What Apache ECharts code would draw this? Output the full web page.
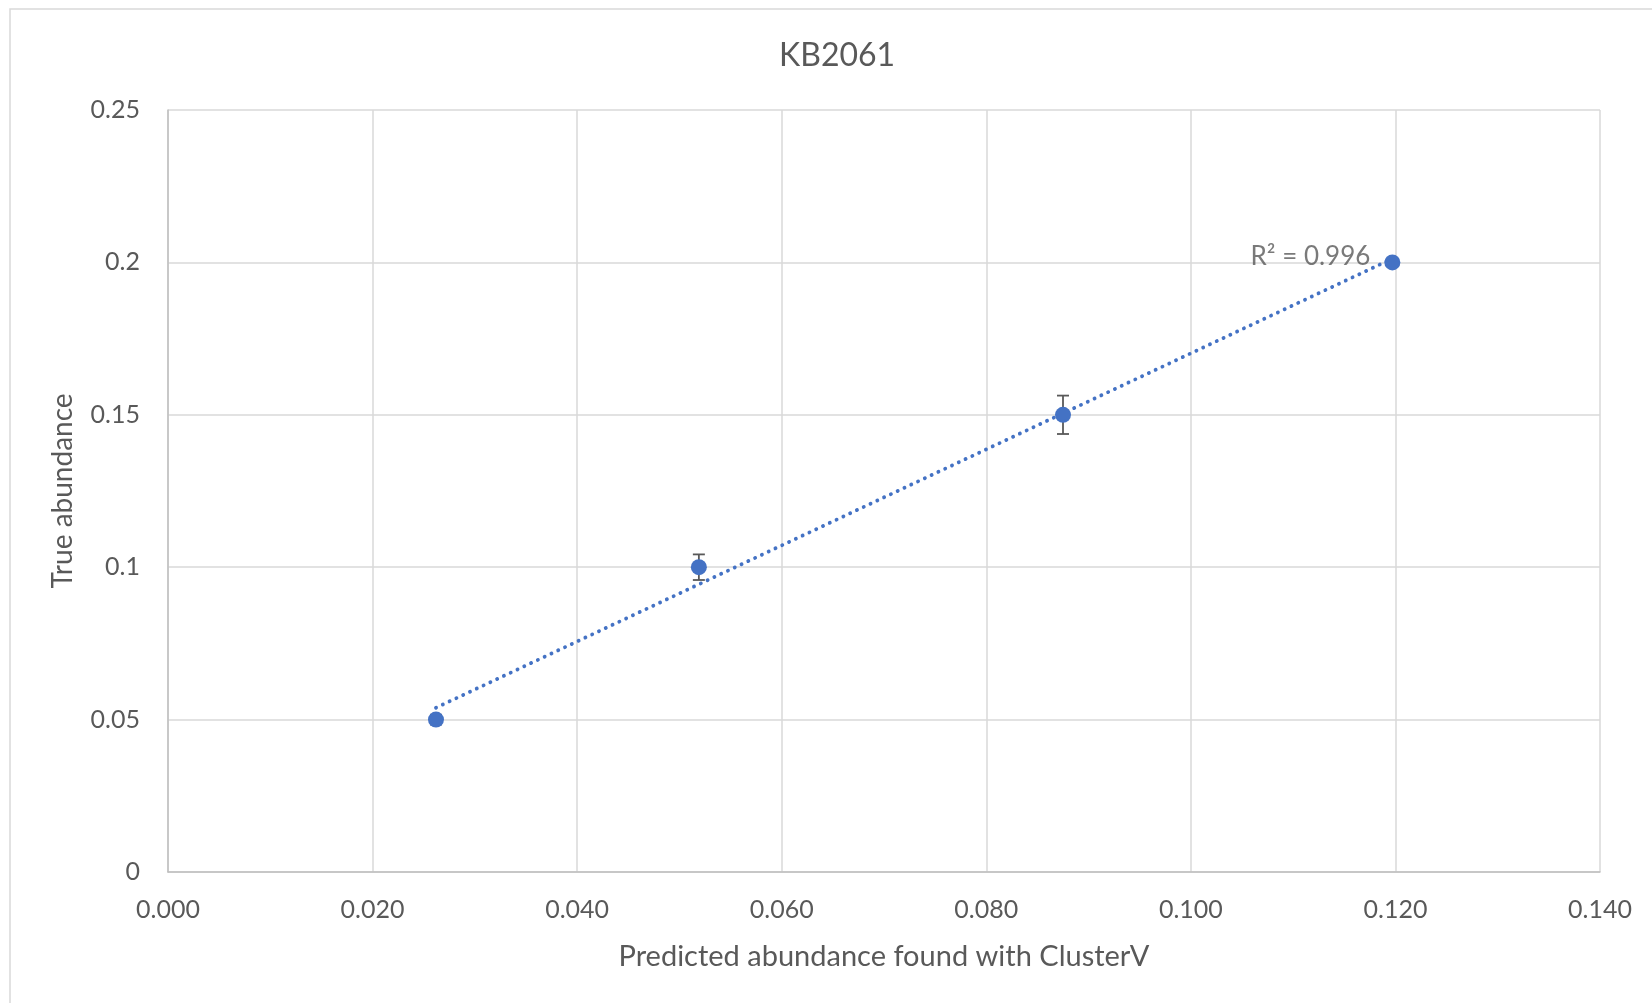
<!DOCTYPE html>
<html><head><meta charset="utf-8">
<script src="https://cdn.jsdelivr.net/npm/echarts@6/dist/echarts.min.js"></script>
<style>html,body{margin:0;padding:0;background:#fff}#c{width:1652px;height:1003px}</style>
</head><body><div id="c"></div>
<script>
const titleText = 'KB2061';
const xAxisName = 'Predicted abundance found with ClusterV';
const yAxisName = 'True abundance';
const predicted = [0.0262, 0.0519, 0.0875, 0.1197];
const trueAbund = [0.05, 0.10, 0.15, 0.20];
const errY = [0.0016, 0.0042, 0.0063, 0];

// linear regression of trueAbund on predicted (trendline)
const n = predicted.length;
const mx = predicted.reduce((a,b)=>a+b,0)/n;
const my = trueAbund.reduce((a,b)=>a+b,0)/n;
let sxy=0,sxx=0,syy=0;
for(let i=0;i<n;i++){const dx=predicted[i]-mx,dy=trueAbund[i]-my;sxy+=dx*dy;sxx+=dx*dx;syy+=dy*dy;}
const slope=sxy/sxx, icpt=my-slope*mx, r2=sxy*sxy/(sxx*syy);
const xmin=Math.min(...predicted), xmax=Math.max(...predicted);
const trend=[[xmin,icpt+slope*xmin],[xmax,icpt+slope*xmax]];

const pts = predicted.map((x,i)=>[x,trueAbund[i]]);
const errData = predicted.map((x,i)=>[x,trueAbund[i]-errY[i],trueAbund[i]+errY[i]]);
const font = 'Lato, "Open Sans", sans-serif';
const grey = '#595959';

const chart = echarts.init(document.getElementById('c'));
chart.setOption({
  animation:false,
  textStyle:{fontFamily:font},
  graphic:[{type:'rect',shape:{x:10,y:9,width:1700,height:1100},style:{fill:'none',stroke:'#d9d9d9',lineWidth:1.5},z:-10}],
  title:{text:titleText,left:774,top:35,textStyle:{fontFamily:font,fontSize:32,fontWeight:'normal',color:grey}},
  grid:{left:168,top:110,right:52,bottom:131},
  xAxis:{type:'value',min:0,max:0.14,interval:0.02,
    name:xAxisName,nameLocation:'middle',nameGap:70,
    nameTextStyle:{fontSize:29,color:grey,fontFamily:font},
    axisLine:{show:true,lineStyle:{color:'#bfbfbf',width:1.5}},axisTick:{show:false},
    axisLabel:{fontSize:25,color:grey,margin:25,formatter:v=>v.toFixed(3)},
    splitLine:{show:true,lineStyle:{color:'#d9d9d9',width:1.5}}},
  yAxis:{type:'value',min:0,max:0.25,interval:0.05,
    name:yAxisName,nameLocation:'middle',nameGap:91,nameRotate:90,
    nameTextStyle:{fontSize:28,color:grey,fontFamily:font},
    axisLine:{show:true,lineStyle:{color:'#bfbfbf',width:1.5}},axisTick:{show:false},
    axisLabel:{fontSize:25,color:grey,margin:28,formatter:v=>String(+v.toFixed(3))},
    splitLine:{show:true,lineStyle:{color:'#d9d9d9',width:1.5}}},
  series:[
    {type:'custom',data:errData,z:3,
      renderItem:(params,api)=>{
        const x=api.value(0);
        const lo=api.coord([x,api.value(1)]), hi=api.coord([x,api.value(2)]);
        const w=6;
        const st={stroke:grey,lineWidth:1.8};
        return {type:'group',children:[
          {type:'line',shape:{x1:lo[0],y1:lo[1],x2:hi[0],y2:hi[1]},style:st},
          {type:'line',shape:{x1:lo[0]-w,y1:lo[1],x2:lo[0]+w,y2:lo[1]},style:st},
          {type:'line',shape:{x1:hi[0]-w,y1:hi[1],x2:hi[0]+w,y2:hi[1]},style:st}]};
      }},
    {type:'line',data:trend,symbol:'none',z:4,
      lineStyle:{color:'#4472c4',width:3.8,type:[0.1,7.4],cap:'round'}},
    {type:'scatter',data:pts,symbol:'circle',symbolSize:16,z:5,
      itemStyle:{color:'#4472c4',opacity:1}},
    {type:'scatter',data:[trend[1]],symbolSize:0,z:6,silent:true,
      label:{show:true,position:'left',distance:22,offset:[0,-2],
        formatter:()=>'R² = '+r2.toFixed(3),fontSize:26,color:grey,fontFamily:font}}
  ]
});
</script></body></html>
